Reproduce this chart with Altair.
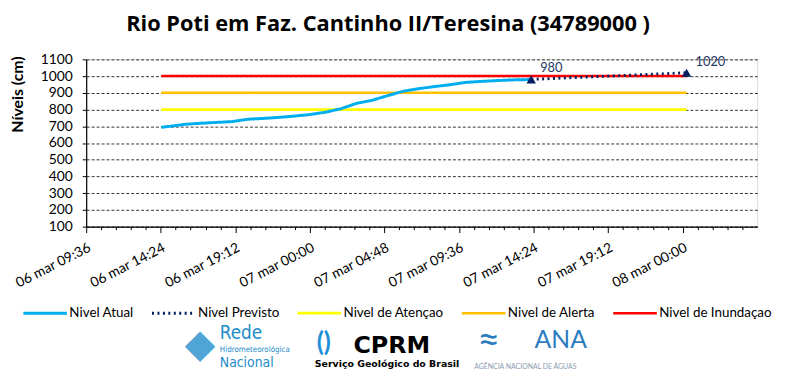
import altair as alt
import pandas as pd

FONT = "Lato"

# ---------------- data ----------------
series_names = ["Nivel Atual", "Nivel Previsto", "Nivel de Atençao", "Nivel de Alerta", "Nivel de Inundaçao"]
series_colors = ["#00AEEF", "#002060", "#FFFF00", "#FFC000", "#FF0000"]

obs_times = [
    "2019-03-06T14:26", "2019-03-06T15:00", "2019-03-06T16:00", "2019-03-06T17:00",
    "2019-03-06T18:00", "2019-03-06T19:00", "2019-03-06T20:00", "2019-03-06T21:00",
    "2019-03-06T22:00", "2019-03-06T23:00", "2019-03-07T00:00", "2019-03-07T01:00",
    "2019-03-07T02:00", "2019-03-07T03:00", "2019-03-07T04:00", "2019-03-07T05:00",
    "2019-03-07T06:00", "2019-03-07T07:00", "2019-03-07T08:00", "2019-03-07T09:00",
    "2019-03-07T10:00", "2019-03-07T11:00", "2019-03-07T12:00", "2019-03-07T13:00",
    "2019-03-07T14:00", "2019-03-07T14:15",
]
obs_levels = [694, 700, 712, 718, 723, 728, 742, 747, 753, 761, 770, 784, 805, 837,
              855, 883, 909, 925, 937, 948, 962, 968, 973, 977, 979, 980]

fc_times = ["2019-03-07T14:15", "2019-03-08T00:15"]
fc_levels = [980, 1020]

thr_times = ["2019-03-06T14:26", "2019-03-08T00:15"]
thr_names = ["Nivel de Atençao", "Nivel de Alerta", "Nivel de Inundaçao"]
thr_levels = [800, 900, 1000]

y_ticks = [100, 200, 300, 400, 500, 600, 700, 800, 900, 1000, 1100]
x_domain = ["2019-03-06T09:36", "2019-03-08T04:48"]

# ---------------- tables ----------------
rows = []
for n, lv in zip(thr_names, thr_levels):
    for t in thr_times:
        rows.append({"t": t, "v": lv, "serie": n})
for t, v in zip(obs_times, obs_levels):
    rows.append({"t": t, "v": v, "serie": "Nivel Atual"})
for t, v in zip(fc_times, fc_levels):
    rows.append({"t": t, "v": v, "serie": "Nivel Previsto"})
lines_df = pd.DataFrame(rows)
fc_df = pd.DataFrame({"t": fc_times, "v": fc_levels})

# axis tick positions: major every 4.8 h, minor every 0.96 h (no tick at the axis end)
tick_ts = pd.date_range(x_domain[0], x_domain[1], freq="3456s")[:-1]
x_tick_values = [
    alt.DateTime(year=int(d.year), month=int(d.month), date=int(d.day), hours=int(d.hour),
                 minutes=int(d.minute), seconds=int(d.second))
    for d in tick_ts
]

x_enc = alt.X(
    "t:T",
    scale=alt.Scale(domain=x_domain),
    axis=alt.Axis(
        values=x_tick_values,
        tickCount=500,
        title=None,
        grid=False,
        domainColor="black",
        domainWidth=1.2,
        tickColor="black",
        tickWidth=1,
        tickSize={"condition": {"test": "seconds(datum.value) == 0", "value": 6}, "value": 3},
        labelExpr="seconds(datum.value) == 0 ? timeFormat(datum.value, '%d mar %H:%M') : ''",
        labelAngle=-27,
        labelAlign="right",
        labelBaseline="top",
        labelPadding=8,
        labelOverlap=False,
        labelFont=FONT,
        labelFontSize=14,
        labelColor="black",
    ),
)
y_enc = alt.Y(
    "v:Q",
    scale=alt.Scale(domain=[100, 1100], nice=False, zero=False),
    axis=alt.Axis(
        values=y_ticks,
        tickCount=500,
        format="d",
        title="Níveis  (cm)",
        titleFont=FONT,
        titleFontSize=16,
        titleFontWeight="bold",
        titleColor="black",
        titleX=-69,
        titleY=35,
        titleAngle=270,
        titleAlign="center",
        titleBaseline="middle",
        grid=True,
        gridColor="black",
        gridDash=[3, 2],
        gridWidth=0.8,
        domainColor="black",
        domainWidth=1.2,
        tickColor="black",
        tickSize=4,
        labelFont=FONT,
        labelFontSize=14,
        labelColor="black",
        labelPadding=10,
        labelOverlap=False,
    ),
)

legend = alt.Legend(
    title=None,
    orient="none",
    legendX=-65,
    legendY=233,
    direction="horizontal",
    columns=5,
    symbolType="stroke",
    symbolSize=1936,
    symbolStrokeWidth=4,
    labelFont=FONT,
    labelFontSize=13.5,
    labelColor="black",
    labelOffset=1,
    columnPadding=12,
)

lines = alt.Chart(lines_df).mark_line(strokeCap="butt").encode(
    x=x_enc,
    y=y_enc,
    color=alt.Color("serie:N", scale=alt.Scale(domain=series_names, range=series_colors), legend=legend),
    strokeDash=alt.StrokeDash(
        "serie:N",
        scale=alt.Scale(domain=series_names, range=[[1, 0], [2, 3.5], [1, 0], [1, 0], [1, 0]]),
        legend=legend,
    ),
    strokeWidth=alt.StrokeWidth(
        "serie:N", scale=alt.Scale(domain=series_names, range=[3, 2.5, 3.5, 3.5, 3.5]), legend=None
    ),
)

tri = alt.Chart(fc_df).mark_point(shape="triangle-up", filled=True, size=90, color="#002060", opacity=1).encode(
    x="t:T", y="v:Q"
)
lbl = alt.Chart(fc_df).mark_text(align="left", baseline="middle", dx=9, dy=-11, font=FONT, fontSize=13,
                                 color="#1F3864").encode(x="t:T", y="v:Q", text="v:Q")

# ---------------- logo captions (decoration) ----------------
one = pd.DataFrame({"k": [0]})
def caption(txt, x, y, size, color, weight="normal", align="left", font=FONT):
    return alt.Chart(one).mark_text(text=txt, align=align, baseline="middle", fontSize=size, color=color,
                                    fontWeight=weight, font=font).encode(x=alt.value(x), y=alt.value(y))

NARROW = "DejaVu Sans Condensed, Roboto, sans-serif"
ox, oy = 87, 58
logos = [
    caption("◆", 202 - ox, 347 - oy, 40, "#4FA6D6", align="center", font="DejaVu Sans"),
    caption("Rede", 222 - ox, 335 - oy, 19, "#1E8CC8", font=NARROW),
    caption("Hidrometeorológica", 222 - ox, 351.5 - oy, 8, "#1E8CC8", font=NARROW),
    caption("Nacional", 222 - ox, 364.5 - oy, 14, "#1E8CC8", font=NARROW),
    caption("()", 320 - ox, 345 - oy, 26, "#1E90D6", weight="bold"),
    caption("CPRM", 357 - ox, 348 - oy, 24, "black", weight=900, font="DejaVu Sans"),
    caption("Serviço Geológico do Brasil", 318 - ox, 366 - oy, 9.5, "black", weight="bold", font="DejaVu Sans"),
    caption("≈", 482 - ox, 342 - oy, 40, "#2B7BC0"),
    caption("ANA", 540 - ox, 342 - oy, 25, "#2B7BC0"),
    caption("AGÊNCIA NACIONAL DE ÁGUAS", 479 - ox, 369 - oy, 7, "#8A9BB0"),
]

chart = alt.layer(lines, tri, lbl, *logos).properties(
    width=678,
    height=169,
    title=alt.TitleParams(
        "Rio Poti em Faz. Cantinho II/Teresina (34789000 )",
        font="Open Sans",
        fontSize=22,
        fontWeight="bold",
        color="black",
        anchor="middle",
        dx=-34,
        dy=22,
        offset=22,
        baseline="alphabetic",
    ),
    autosize=alt.AutoSizeParams(type="none"),
    padding={"left": 79, "top": 50, "right": 25, "bottom": 146},
).configure_view(stroke=None).configure(background="white")

chart.save("out.html", embed_options={"renderer": "svg", "actions": False})
